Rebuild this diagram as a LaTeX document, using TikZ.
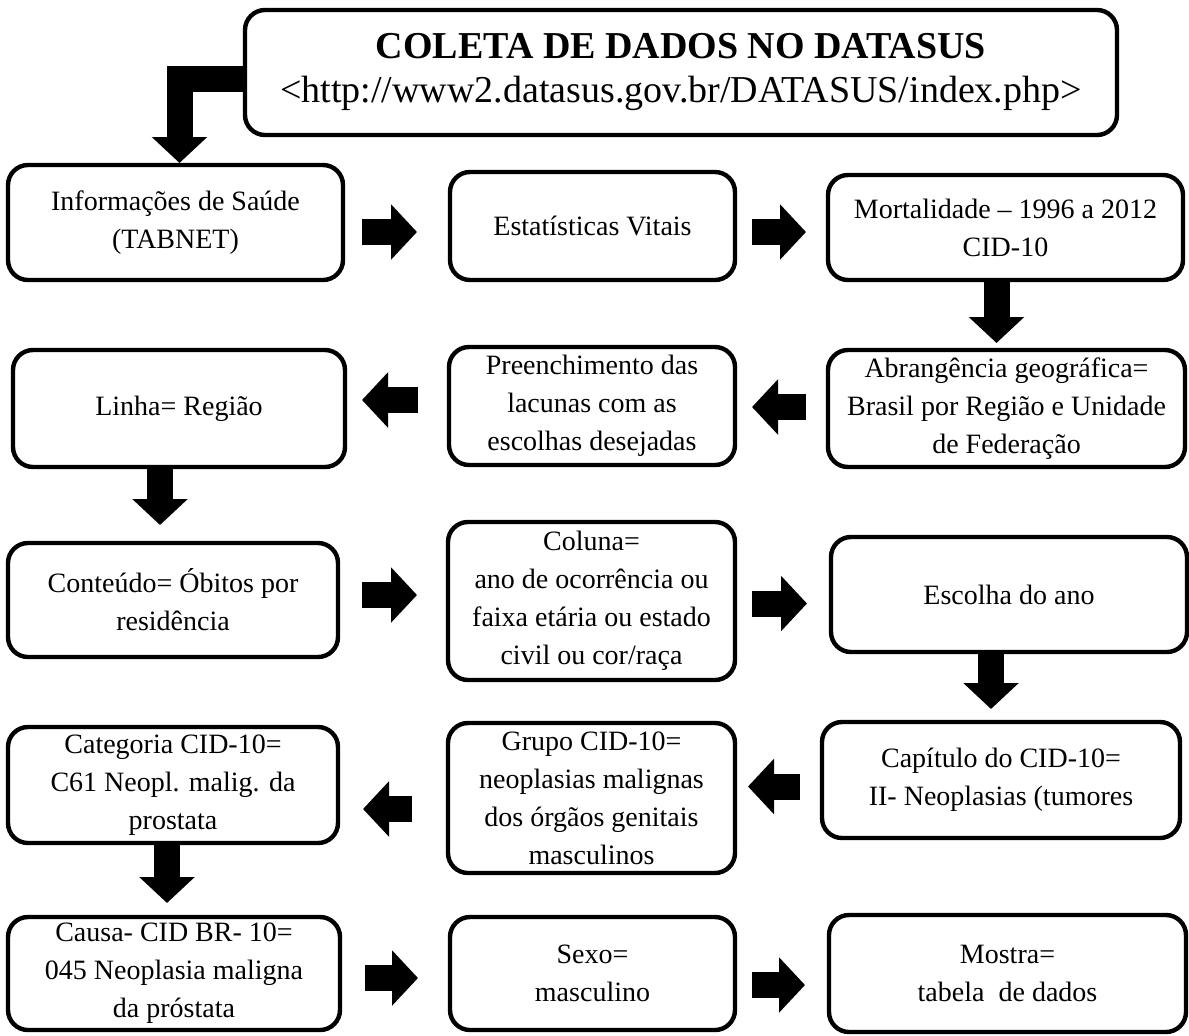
\documentclass[tikz,border=0pt]{standalone}
\usepackage{fontspec}
\setmainfont{Liberation Serif}
\usetikzlibrary{arrows.meta}
\begin{document}
\begin{tikzpicture}[x=0.5pt,y=-0.5pt,
  box/.style={draw, line width=2.2pt, rounded corners=10pt, align=center, inner sep=1pt, outer sep=0pt,
    font=\fontsize{14pt}{19pt}\selectfont},
  barrow/.style={line width=13pt, line join=miter, -{Triangle[length=13pt,width=27pt]}}]
\useasboundingbox (0,0) rectangle (1189,1035);
% boxes
\node[box, minimum width=436pt, minimum height=62.5pt, font=\fontsize{19pt}{22pt}\selectfont] (top) at (681,72.5)
  {\textbf{COLETA DE DADOS NO DATASUS}\\<http://www2.datasus.gov.br/DATASUS/index.php>};
\node[box, minimum width=167.5pt, minimum height=57.5pt] (info) at (175.5,222.5) {Informações de Saúde\\(TABNET)};
\node[box, minimum width=142.5pt, minimum height=54pt] (est) at (592.5,226) {Estatísticas Vitais};
\node[box, minimum width=177.5pt, minimum height=52.5pt] (mort) at (1005.5,227.5) {Mortalidade – 1996 a 2012\\CID-10};
\node[box, minimum width=166pt, minimum height=58.5pt] (linha) at (179,408.5) {Linha= Região};
\node[box, minimum width=143pt, minimum height=59pt] (preen) at (592,406) {Preenchimento das\\lacunas com as\\escolhas desejadas};
\node[box, minimum width=178.5pt, minimum height=58.5pt] (abr) at (1006.5,408.5) {Abrangência geográfica=\\Brasil por Região e Unidade\\de Federação};
\node[box, minimum width=165pt, minimum height=57pt] (cont) at (173,600) {Conteúdo= Óbitos por\\residência};
\node[box, minimum width=143.5pt, minimum height=79pt] (col) at (591.5,601) {Coluna=\\ano de ocorrência ou\\faixa etária ou estado\\civil ou cor/raça};
\node[box, minimum width=178pt, minimum height=57.5pt] (esc) at (1009,594.5) {Escolha do ano};
\node[box, minimum width=165pt, minimum height=58pt] (cat) at (173,785) {Categoria CID-10=\\C61 Neopl. malig. da\\prostata};
\node[box, minimum width=143.5pt, minimum height=75pt] (grupo) at (591.5,798) {Grupo CID-10=\\neoplasias malignas\\dos órgãos genitais\\masculinos};
\node[box, minimum width=179pt, minimum height=58pt] (cap) at (1001,780) {Capítulo do CID-10=\\II- Neoplasias (tumores};
\node[box, minimum width=166pt, minimum height=56.5pt] (causa) at (174,973.5) {Causa- CID BR- 10=\\045 Neoplasia maligna\\da próstata};
\node[box, minimum width=142.5pt, minimum height=56.5pt] (sexo) at (592.5,973.5) {Sexo=\\masculino};
\node[box, minimum width=178.5pt, minimum height=58.5pt] (mostra) at (1007.5,973.5) {Mostra=\\tabela~ de dados};
% arrows
\draw[barrow, shorten >=1pt] ([yshift=-3pt]top.west) -| ([xshift=2pt]info.north);
\draw[barrow, shorten <=9.5pt, shorten >=16.5pt] ([yshift=-4.75pt]info.east) -- ([yshift=-4.75pt]info.east -| est.west);
\draw[barrow, shorten <=8.5pt, shorten >=11pt] ([yshift=-3pt]est.east) -- ([yshift=-3pt]est.east -| mort.west);
\draw[barrow, shorten <=1pt, shorten >=3.5pt] ([xshift=-4.5pt]mort.south) -- ([xshift=-4.5pt]mort.south |- abr.north);
\draw[barrow, shorten <=11pt, shorten >=8.5pt] ([yshift=0.75pt]abr.west) -- ([yshift=0.75pt]abr.west -| preen.east);
\draw[barrow, shorten <=15.5pt, shorten >=8.5pt] ([yshift=3pt]preen.west) -- ([yshift=3pt]preen.west -| linha.east);
\draw[barrow, shorten >=9pt] ([xshift=-9.5pt]linha.south) -- ([xshift=-9.5pt]linha.south |- cont.north);
\draw[barrow, shorten <=12pt, shorten >=15.5pt] ([yshift=2.5pt]cont.east) -- ([yshift=2.5pt]cont.east -| col.west);
\draw[barrow, shorten <=8.5pt, shorten >=12pt] ([yshift=-1.25pt]col.east) -- ([yshift=-1.25pt]col.east -| esc.west);
\draw[barrow, shorten >=6.5pt] ([xshift=-9pt]esc.south) -- ([xshift=-9pt]esc.south |- cap.north);
\draw[barrow, shorten <=11pt, shorten >=6.5pt] ([yshift=-3.25pt]cap.west) -- ([yshift=-3.25pt]cap.west -| grupo.east);
\draw[barrow, shorten <=18pt, shorten >=12.5pt] ([yshift=-5.5pt]grupo.west) -- ([yshift=-5.5pt]grupo.west -| cat.east);
\draw[barrow, shorten >=7pt] ([xshift=-3pt]cat.south) -- ([xshift=-3pt]cat.south |- causa.north);
\draw[barrow, shorten <=12.5pt, shorten >=16pt] ([yshift=-2.25pt]causa.east) -- ([yshift=-2.25pt]causa.east -| sexo.west);
\draw[barrow, shorten <=8.5pt, shorten >=12pt] ([yshift=-5.75pt]sexo.east) -- ([yshift=-5.75pt]sexo.east -| mostra.west);
\end{tikzpicture}
\end{document}
